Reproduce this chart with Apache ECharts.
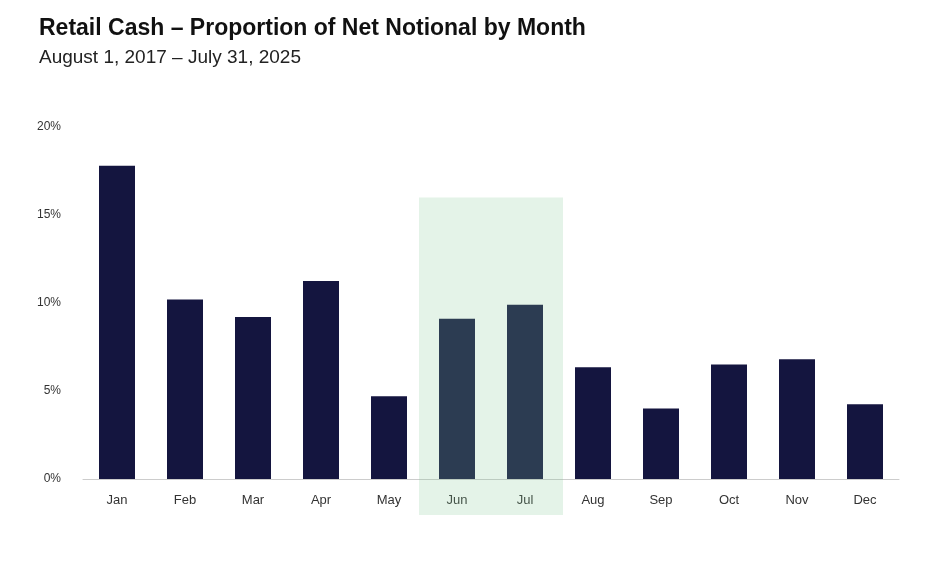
<!DOCTYPE html>
<html>
<head>
<meta charset="UTF-8">
<script src="https://cdn.jsdelivr.net/npm/echarts@6/dist/echarts.min.js"></script>
</head>
<body style="margin:0;background:#fff;">
<div id="chart" style="width:937px;height:570px;"></div>
<script>
var months = ['Jan','Feb','Mar','Apr','May','Jun','Jul','Aug','Sep','Oct','Nov','Dec'];
var share = [17.8, 10.2, 9.2, 11.25, 4.7, 9.1, 9.9, 6.35, 4.0, 6.5, 6.8, 4.25];
var highlight = ['Jun', 'Jul'];
var highlightTop = 16;

var chart = echarts.init(document.getElementById('chart'));
chart.setOption({
    animation: false,
    title: {
        text: 'Retail Cash \u2013 Proportion of Net Notional by Month',
        subtext: 'August 1, 2017 \u2013 July 31, 2025',
        left: 34, top: 12, itemGap: 8,
        textStyle: {fontFamily: 'Liberation Sans', fontWeight: 'bold', fontSize: 23, color: '#111'},
        subtextStyle: {fontFamily: 'Liberation Sans', fontSize: 19, color: '#222'}
    },
    grid: {left: 83, right: 38, top: 127, bottom: 91},
    xAxis: {
        type: 'category', data: months,
        axisLine: {lineStyle: {color: '#ccc'}},
        axisTick: {show: false},
        axisLabel: {color: '#333', fontSize: 13, fontFamily: 'Liberation Sans', margin: 15}
    },
    yAxis: {
        type: 'value', min: 0, max: 20, interval: 5,
        splitLine: {show: false},
        axisLabel: {formatter: '{value}%', color: '#333', fontSize: 12, fontFamily: 'Liberation Sans', margin: 22}
    },
    series: [{
        type: 'bar', data: share, barWidth: 36,
        itemStyle: {color: '#14153f'}
    }]
});

function drawHighlight() {
    var a = chart.convertToPixel({xAxisIndex: 0}, highlight[0]);
    var b = chart.convertToPixel({xAxisIndex: 0}, highlight[1]);
    var top = chart.convertToPixel({yAxisIndex: 0}, highlightTop);
    var base = chart.convertToPixel({yAxisIndex: 0}, 0);
    var half = 38;
    chart.setOption({
        graphic: [{
            type: 'rect', z: 100,
            shape: {x: a - half, y: top, width: b - a + 2 * half, height: base - top + 36},
            style: {fill: 'rgba(130,200,150,0.22)'}
        }]
    });
}
drawHighlight();
</script>
</body>
</html>
